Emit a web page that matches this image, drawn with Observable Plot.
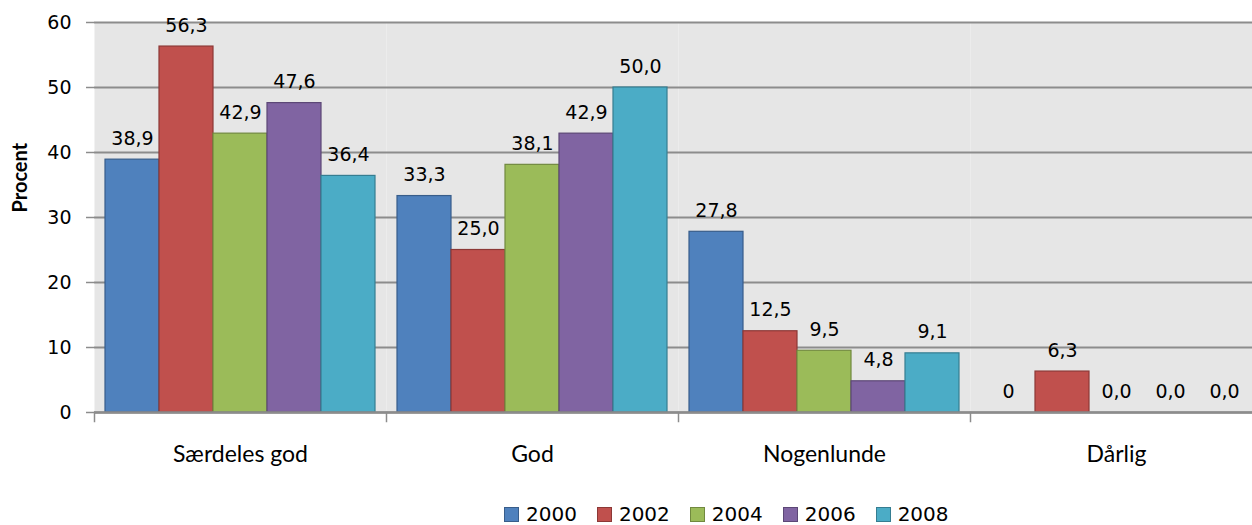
<!DOCTYPE html>
<html>
<head>
<meta charset="utf-8">
<script src="https://cdn.jsdelivr.net/npm/d3@7"></script>
<script src="https://cdn.jsdelivr.net/npm/@observablehq/plot@0.6"></script>
<style>
  html, body { margin: 0; padding: 0; background: white; overflow: hidden; }
  #wrap { position: relative; width: 1252px; height: 525px; overflow: hidden; }
  #chart svg { max-width: none !important; }
  #legend { position: absolute; left: 504px; top: 506px; display: flex; align-items: center;
            font-family: "DejaVu Sans", sans-serif; font-size: 20px; line-height: 17px; color: #000; white-space: nowrap; }
  .item { display: flex; align-items: center; margin-right: 20px; }
  .sw { width: 13px; height: 13px; margin-right: 7px; border: 1px solid; }
</style>
</head>
<body>
<div id="wrap"><div id="chart"></div><div id="legend"></div></div>
<script>
const categories = ["Særdeles god", "God", "Nogenlunde", "Dårlig"];
const years = ["2000", "2002", "2004", "2006", "2008"];
const v2000 = [38.9, 33.3, 27.8, 0];
const v2002 = [56.3, 25.0, 12.5, 6.3];
const v2004 = [42.9, 38.1, 9.5, 0.0];
const v2006 = [47.6, 42.9, 4.8, 0.0];
const v2008 = [36.4, 50.0, 9.1, 0.0];
const yTicks = [0, 10, 20, 30, 40, 50, 60];
// the 2000 / Dårlig cell is labelled "0" (no decimal) in the source
const labelOverrides = {"2000|Dårlig": "0"};

const fills = ["#4F81BD", "#C0504D", "#9BBB59", "#8064A2", "#4BACC6"];
const strokes = ["#385D8A", "#8C3836", "#71893F", "#5C4776", "#357D91"];

const series = [v2000, v2002, v2004, v2006, v2008];
const data = [];
years.forEach((yr, i) => categories.forEach((cat, j) => {
  const value = series[i][j];
  const key = yr + "|" + cat;
  const label = labelOverrides[key] ?? d3.format(".1f")(value).replace(".", ",");
  data.push({year: yr, cat, value, label});
}));

const chart = Plot.plot({
  width: 1262,
  height: 500,
  marginLeft: 94,
  marginRight: 0,
  marginTop: 22,
  marginBottom: 88,
  style: {fontFamily: "DejaVu Sans, sans-serif", fontSize: "18px", color: "#000", background: "white", maxWidth: "none"},
  fx: {domain: categories, padding: 0, label: null, axis: null},
  x: {domain: years, paddingInner: 0, paddingOuter: 0.2037, axis: null},
  y: {domain: [0, 60], label: null},
  marks: [
    Plot.frame({fill: "#e6e6e6"}),
    Plot.gridY(yTicks, {stroke: "#8c8c8c", strokeOpacity: 1, strokeWidth: 2}),
    ...years.map((yr, i) => Plot.barY(data.filter(d => d.year === yr && d.value > 0), {
      fx: "cat", x: "year", y: "value", fill: fills[i], stroke: strokes[i], strokeWidth: 1.2
    })),
    Plot.ruleY([0], {stroke: "#8c8c8c", strokeWidth: 2.5}),
    Plot.frame({anchor: "left", stroke: "#8c8c8c", strokeWidth: 1.5, insetTop: 390, insetBottom: -9}),
    Plot.axisY(yTicks, {tickSize: 8, tickPadding: 15, tickFormat: d3.format("d"), fontSize: 19,
      stroke: "#8c8c8c", strokeWidth: 1.5, fill: "#000", label: null, line: true}),
    Plot.text(data, {fx: "cat", x: "year", y: "value", text: "label", dy: -21,
      fontSize: 19, fill: "#000", textAnchor: "middle", lineAnchor: "middle"}),
    Plot.axisFx({anchor: "bottom", tickSize: 0, tickPadding: 33, fontFamily: "Lato", fontSize: 23, label: null}),
    Plot.text(["Procent"], {fx: () => categories[0], frameAnchor: "left", rotate: -90, dx: -74, dy: -5,
      fontFamily: "Lato", fontWeight: "bold", fontSize: 20, fill: "#000"})
  ]
});
document.getElementById("chart").appendChild(chart);

const legend = document.getElementById("legend");
years.forEach((yr, i) => {
  const item = document.createElement("div");
  item.className = "item";
  const sw = document.createElement("span");
  sw.className = "sw";
  sw.style.background = fills[i];
  sw.style.borderColor = strokes[i];
  const t = document.createElement("span");
  t.textContent = yr;
  item.appendChild(sw);
  item.appendChild(t);
  legend.appendChild(item);
});
</script>
</body>
</html>
